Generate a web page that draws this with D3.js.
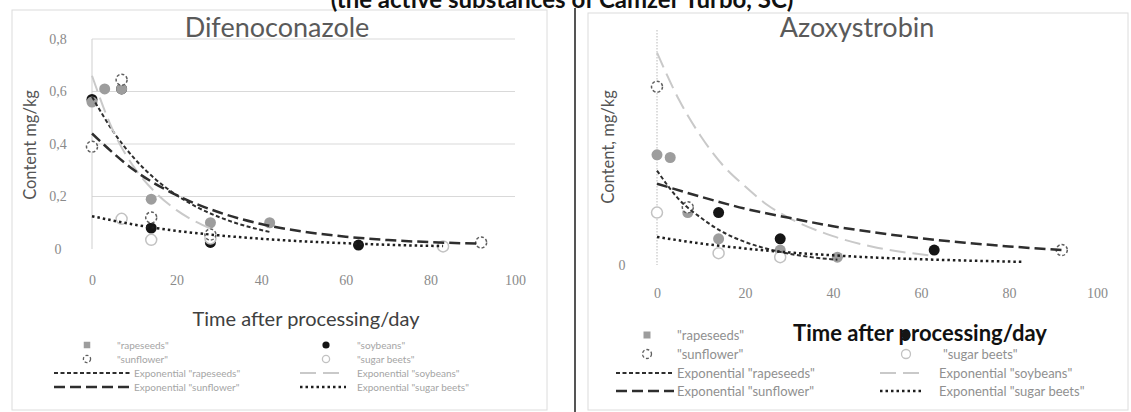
<!DOCTYPE html>
<html><head><meta charset="utf-8">
<script src="https://cdn.jsdelivr.net/npm/d3@7"></script>
<style>body{margin:0;background:#fff}svg{display:block}</style>
</head><body><svg id="c" width="1131" height="412"></svg>
<script>
// ---------------- data ----------------
const mainTitle = "(the active substances of Camzer Turbo, SC)";
const panelTitles = ["Difenoconazole", "Azoxystrobin"];
const yAxisTitles = ["Content mg/kg", "Content, mg/kg"];
const xAxisTitle = "Time after processing/day";
const seriesNames = ["rapeseeds", "soybeans", "sunflower", "sugar beets"];
const xTicks = [0, 20, 40, 60, 80, 100];
const yTicksDif = [0, 0.2, 0.4, 0.6, 0.8];
const yTickLabelsDif = ["0", "0,2", "0,4", "0,6", "0,8"];
const yTicksAzo = [0];
const yTickLabelsAzo = ["0"];

// Difenoconazole observed points [day, mg/kg]
const difRapeseeds = [[0,0.56],[3,0.61],[7,0.61],[14,0.19],[28,0.10],[42,0.10]];
const difSoybeans = [[0,0.57],[7,0.61],[14,0.08],[28,0.025],[63,0.015]];
const difSunflower = [[0,0.39],[7,0.645],[14,0.12],[28,0.055],[92,0.025]];
const difSugarBeets = [[7,0.115],[14,0.035],[28,0.04],[83,0.01]];
// Difenoconazole exponential trendlines
const difTrendRapeseeds = [[0,0.58],[5,0.448],[10,0.345],[15,0.266],[20,0.205],[25,0.158],[30,0.122],[35,0.094],[42,0.065]];
const difTrendSoybeans = [[0,0.66],[5,0.45],[10,0.31],[15,0.215],[20,0.148],[28,0.078]];
const difTrendSunflower = [[0,0.44],[10,0.30],[20,0.205],[30,0.14],[40,0.095],[50,0.066],[60,0.047],[70,0.034],[80,0.026],[92,0.02]];
const difTrendSugarBeets = [[0,0.125],[10,0.093],[20,0.069],[30,0.052],[40,0.039],[50,0.029],[60,0.022],[70,0.016],[83,0.011]];

// Azoxystrobin observed points
const azoRapeseeds = [[0,0.42],[3,0.41],[7,0.20],[14,0.10],[28,0.057],[41,0.03]];
const azoSoybeans = [[14,0.20],[28,0.10],[63,0.057]];
const azoSunflower = [[0,0.68],[7,0.22],[92,0.057]];
const azoSugarBeets = [[0,0.20],[14,0.045],[28,0.03]];
// Azoxystrobin exponential trendlines
const azoTrendRapeseeds = [[0,0.36],[5,0.25],[10,0.18],[15,0.125],[20,0.088],[28,0.05],[35,0.03],[41,0.02]];
const azoTrendSoybeans = [[0,0.81],[5,0.63],[10,0.49],[15,0.38],[20,0.30],[25,0.23],[30,0.18],[40,0.11],[50,0.066],[63,0.035]];
const azoTrendSunflower = [[0,0.31],[10,0.26],[20,0.215],[30,0.18],[40,0.148],[50,0.123],[60,0.102],[70,0.085],[80,0.071],[92,0.057]];
const azoTrendSugarBeets = [[0,0.107],[10,0.082],[20,0.063],[30,0.048],[40,0.037],[50,0.028],[60,0.022],[70,0.017],[83,0.012]];

// ---------------- styles ----------------
const markerStyles = [
  {fill:"#9d9d9d", stroke:"none", dash:null, legendShape:"square"},
  {fill:"#151515", stroke:"none", dash:null, legendShape:"circle"},
  {fill:"#ffffff", stroke:"#5f5f5f", dash:"3,2", legendShape:"circle"},
  {fill:"#ffffff", stroke:"#c2c2c2", dash:null, legendShape:"circle"}
];
const trendStyles = [
  {stroke:"#2e2e2e", width:2, dash:"4,2.5"},
  {stroke:"#c9c9c9", width:2, dash:"16,7"},
  {stroke:"#2e2e2e", width:2.5, dash:"11,5"},
  {stroke:"#1e1e1e", width:2.5, dash:"2.5,3"}
];
const markerDrawOrder = [1, 0, 3, 2];

const svg = d3.select("#c");
const FONT = "Lato, 'Open Sans', sans-serif";
const SERIF = "'Liberation Serif', serif";

// frames
svg.append("rect").attr("x",12).attr("y",10).attr("width",535).attr("height",400)
  .attr("fill","none").attr("stroke","#dcdcdc");
svg.append("rect").attr("x",588).attr("y",13).attr("width",540).attr("height",397)
  .attr("fill","none").attr("stroke","#dcdcdc");
svg.append("line").attr("x1",575).attr("x2",575).attr("y1",8).attr("y2",412)
  .attr("stroke","#555").attr("stroke-width",2);

// main (cut-off) title
svg.append("text").attr("x",562).attr("y",8).attr("text-anchor","middle")
  .attr("font-family",FONT).attr("font-weight","bold").attr("font-size",24)
  .attr("fill","#111").text(mainTitle);

const panels = [
  {
    title: panelTitles[0], yTitle: yAxisTitles[0],
    pts: [difRapeseeds, difSoybeans, difSunflower, difSugarBeets],
    trends: [difTrendRapeseeds, difTrendSoybeans, difTrendSunflower, difTrendSugarBeets],
    xr:[92,515], yr:[249,39], yd:[0,0.8], yTicks:yTicksDif, yLabels:yTickLabelsDif,
    grid:true, yLabelX:58, xTickPad:26, titleX:277, titleY:37, yTitleX:30, yTitleY:145,
    xTitle:{x:306, y:326, size:20, weight:"normal", fill:"#404040", bg:false},
    legend:{rows:[345,359,373,387], size:10, color:"#a5a5a5", r:3.6, sq:6.5,
      col:[{mx:87, tx:117, lx:[54,130], ltx:134},{mx:326, tx:357, lx:[300,346], ltx:357}]}
  },
  {
    title: panelTitles[1], yTitle: yAxisTitles[1],
    pts: [azoRapeseeds, azoSoybeans, azoSunflower, azoSugarBeets],
    trends: [azoTrendRapeseeds, azoTrendSoybeans, azoTrendSunflower, azoTrendSugarBeets],
    xr:[657,1097], yr:[265,29], yd:[0,0.9], yTicks:yTicksAzo, yLabels:yTickLabelsAzo,
    grid:false, yLabelX:622, xTickPad:23, titleX:857, titleY:37, yTitleX:608, yTitleY:147,
    xTitle:{x:920, y:341, size:22, weight:"bold", fill:"#111", bg:true},
    legend:{rows:[335,354,373,391], size:13, color:"#909090", r:4.5, sq:7,
      col:[{mx:647, tx:677, lx:[616,674], ltx:677},{mx:906, tx:943, lx:[880,924], ltx:939}]}
  }
];

panels.forEach(p => {
  const x = d3.scaleLinear().domain([0,100]).range(p.xr);
  const y = d3.scaleLinear().domain(p.yd).range(p.yr);
  const g = svg.append("g");

  // gridlines
  if (p.grid) {
    g.selectAll("line.grid").data(p.yTicks.filter(d => d > 0)).join("line")
      .attr("x1",p.xr[0]).attr("x2",p.xr[1]).attr("y1",d=>y(d)).attr("y2",d=>y(d))
      .attr("stroke","#d9d9d9").attr("stroke-width",1);
    g.append("line").attr("x1",p.xr[0]).attr("x2",p.xr[0]).attr("y1",y(0.8)).attr("y2",y(0))
      .attr("stroke","#cfcfcf");
  } else {
    g.append("line").attr("x1",p.xr[0]).attr("x2",p.xr[0]).attr("y1",p.yr[1]+1).attr("y2",y(0))
      .attr("stroke","#b9b9b9").attr("stroke-dasharray","1.5,1.5");
  }

  // x axis labels
  const xa = g.append("g").attr("transform",`translate(0,${y(0)})`)
    .call(d3.axisBottom(x).tickValues(xTicks).tickSize(0).tickPadding(p.xTickPad));
  xa.select(".domain").remove();
  xa.selectAll("text").attr("font-family",SERIF).attr("font-size",14).attr("fill","#8a8a8a");

  // y axis labels
  const ya = g.append("g").attr("transform",`translate(${p.xr[0]},0)`)
    .call(d3.axisLeft(y).tickValues(p.yTicks).tickFormat((d,i)=>p.yLabels[i]).tickSize(0));
  ya.select(".domain").remove();
  ya.selectAll("text").attr("text-anchor","middle").attr("x",p.yLabelX - p.xr[0])
    .attr("font-family",SERIF).attr("font-size",14).attr("fill","#8a8a8a");

  // titles
  g.append("text").attr("x",p.titleX).attr("y",p.titleY).attr("text-anchor","middle")
    .attr("font-family",FONT).attr("font-size",27).attr("fill","#5a5a5a").text(p.title);
  g.append("text").attr("transform",`translate(${p.yTitleX},${p.yTitleY}) rotate(-90)`)
    .attr("text-anchor","middle").attr("dominant-baseline","central")
    .attr("font-family",FONT).attr("font-size",16.5).attr("fill","#555").text(p.yTitle);

  // markers
  markerDrawOrder.forEach(si => {
    const st = markerStyles[si];
    g.selectAll(null).data(p.pts[si]).join("circle")
      .attr("cx",d=>x(d[0])).attr("cy",d=>y(d[1])).attr("r",5.5)
      .attr("fill",st.fill).attr("stroke",st.stroke).attr("stroke-width",1.5)
      .attr("stroke-dasharray",st.dash);
  });

  // trendlines
  const line = d3.line().x(d=>x(d[0])).y(d=>y(d[1])).curve(d3.curveMonotoneX);
  p.trends.forEach((t,i) => {
    const st = trendStyles[i];
    g.append("path").datum(t).attr("d",line).attr("fill","none")
      .attr("stroke",st.stroke).attr("stroke-width",st.width).attr("stroke-dasharray",st.dash);
  });

  // legend
  const L = p.legend;
  const entries = [];
  seriesNames.forEach((n,i)=>entries.push({kind:"m", i, label:`"${n}"`}));
  seriesNames.forEach((n,i)=>entries.push({kind:"t", i, label:`Exponential "${n}"`}));
  const lg = g.append("g");
  const textLayer = lg.append("g"), titleLayer = lg.append("g"), symLayer = lg.append("g");
  entries.forEach((e,k) => {
    const row = Math.floor(k/2), c = L.col[k%2], yy = L.rows[row];
    textLayer.append("text").attr("x", e.kind==="m" ? c.tx : c.ltx).attr("y",yy)
      .attr("dominant-baseline","central").attr("font-family",FONT).attr("font-size",L.size)
      .attr("fill",L.color).text(e.label);
    if (e.kind === "m") {
      const st = markerStyles[e.i];
      if (st.legendShape === "square") {
        symLayer.append("rect").attr("x",c.mx-L.sq/2).attr("y",yy-L.sq/2)
          .attr("width",L.sq).attr("height",L.sq).attr("fill",st.fill);
      } else {
        symLayer.append("circle").attr("cx",c.mx).attr("cy",yy).attr("r",L.r)
          .attr("fill",st.fill).attr("stroke",st.stroke).attr("stroke-width",1.3)
          .attr("stroke-dasharray",st.dash);
      }
    } else {
      const st = trendStyles[e.i];
      symLayer.append("line").attr("x1",c.lx[0]).attr("x2",c.lx[1]).attr("y1",yy).attr("y2",yy)
        .attr("stroke",st.stroke).attr("stroke-width",st.width).attr("stroke-dasharray",st.dash);
    }
  });

  // x axis title
  const xt = titleLayer.append("text").attr("x",p.xTitle.x).attr("y",p.xTitle.y)
    .attr("text-anchor","middle").attr("font-family",FONT).attr("font-size",p.xTitle.size)
    .attr("font-weight",p.xTitle.weight).attr("fill",p.xTitle.fill).text(xAxisTitle);
  if (p.xTitle.bg) {
    const b = xt.node().getBBox();
    titleLayer.insert("rect","text").attr("x",b.x-2).attr("y",b.y+1)
      .attr("width",b.width+4).attr("height",b.height-2).attr("fill","#fff");
  }
});
</script></body></html>
